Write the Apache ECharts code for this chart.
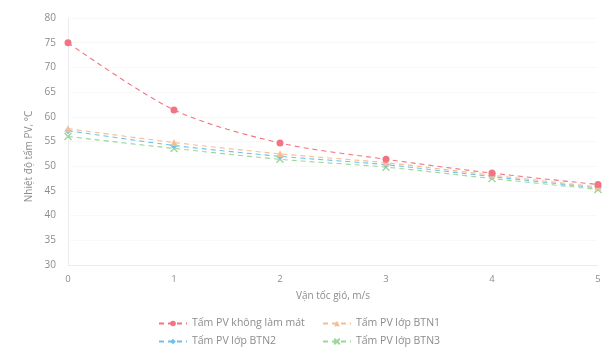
<!DOCTYPE html>
<html><head><meta charset="utf-8">
<script src="https://cdn.jsdelivr.net/npm/echarts@6/dist/echarts.min.js"></script>
<style>html,body{margin:0;padding:0;background:#fff}#c{width:612px;height:353px}</style>
</head><body><div id="c"></div>
<script>
var categories = ['0','1','2','3','4','5'];
var seriesNames = ['Tấm PV không làm mát','Tấm PV lớp BTN1','Tấm PV lớp BTN2','Tấm PV lớp BTN3'];
var noCooling = [75.0, 61.4, 54.7, 51.4, 48.6, 46.3];
var btn1 = [57.6, 54.8, 52.5, 50.7, 48.2, 45.8];
var btn2 = [57.2, 54.2, 52.0, 50.3, 47.9, 45.6];
var btn3 = [56.0, 53.6, 51.4, 49.8, 47.5, 45.3];
var yTicks = [30,35,40,45,50,55,60,65,70,75,80];

var colors = ['#f27383','#f6bd92','#6cc2ea','#9ad79a'];
var symbols = ['circle','triangle','diamond','path://M0,0L10,10M10,0L0,10'];
var dataSets = [noCooling, btn1, btn2, btn3];
var font = '"Open Sans", sans-serif';
var txt = '#8c8c8c';

var series = dataSets.map(function(d,i){
  return {
    name: seriesNames[i], type:'line', data:d, smooth:0.3,
    symbol: symbols[i], symbolSize: 7,
    lineStyle:{color:colors[i], width:1.1, type:[5,4]},
    itemStyle:{color:colors[i], borderColor:colors[i], borderWidth: i===3?1.4:0},
    z: 10-i
  };
});

function lg(name, left, top){
  return {data:[name], left:left, top:top, itemWidth:28, itemHeight:7, itemGap:4,
    textStyle:{color:txt, fontSize:10.5, fontFamily:font}, padding:0};
}

var chart = echarts.init(document.getElementById('c'));
chart.setOption({
  animation:false,
  grid:{left:68, right:14, top:18, bottom:88},
  xAxis:{type:'category', data:categories, boundaryGap:false,
    name:'Vận tốc gió, m/s', nameLocation:'middle', nameGap:26,
    nameTextStyle:{color:txt, fontSize:10, fontFamily:font},
    axisLine:{lineStyle:{color:'#ececec'}}, axisTick:{show:false},
    axisLabel:{color:txt, fontSize:9.5, fontFamily:font, margin:9},
    splitLine:{show:false}},
  yAxis:{type:'value', min:30, max:80, interval:5,
    name:'Nhiệt độ tấm PV, °C', nameLocation:'middle', nameGap:30, nameRotate:90,
    nameTextStyle:{color:txt, fontSize:10, fontFamily:font, padding:[0,30,0,0]},
    axisLine:{show:true, lineStyle:{color:'#ececec'}}, axisTick:{show:false},
    axisLabel:{color:txt, fontSize:10, fontFamily:font, margin:12},
    splitLine:{show:true, lineStyle:{color:'#f2f2f2', type:'dotted'}}},
  legend:[lg(seriesNames[0],158,318), lg(seriesNames[1],322,318), lg(seriesNames[2],158,336), lg(seriesNames[3],322,336)],
  series:series
});
</script></body></html>
